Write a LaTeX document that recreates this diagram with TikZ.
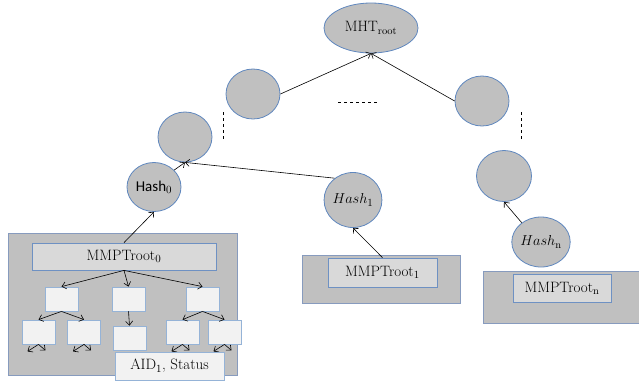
\documentclass[tikz,border=0pt]{standalone}
\usepackage{amsmath}
\usepackage{fontspec}
\usepackage{xcolor}
\newfontfamily\calibri{Carlito}
\usetikzlibrary{shapes.geometric,arrows.meta}

\definecolor{nodegray}{RGB}{192,192,192}
\definecolor{ringblue}{RGB}{95,135,190}
\definecolor{blockedge}{RGB}{135,155,190}
\definecolor{innerfill}{RGB}{217,217,217}
\definecolor{inneredge}{RGB}{110,145,195}
\definecolor{leaffill}{RGB}{242,242,242}
\definecolor{leafedge}{RGB}{149,179,215}

\tikzset{
  hashnode/.style={ellipse, draw=ringblue, fill=nodegray, line width=0.8pt, inner sep=0pt, minimum width=54, minimum height=50},
  grayblock/.style={rectangle, draw=blockedge, fill=nodegray, line width=0.8pt, inner sep=0pt},
  rootbox/.style={rectangle, draw=inneredge, fill=innerfill, line width=0.8pt, inner sep=0pt},
  leafbox/.style={rectangle, draw=leafedge, fill=leaffill, line width=0.8pt, inner sep=0pt, minimum width=33, minimum height=24},
  arr/.style={-{Straight Barb[length=4pt,width=7pt]}, line width=0.6pt},
}

\begin{document}
\begin{tikzpicture}[x=1pt, y=-1pt, font=\fontsize{15}{17}\selectfont]
            \useasboundingbox (0,0) rectangle (639,384);
            \node[hashnode, minimum width=94] (root) at (371,28) {MHT$_{\mathrm{root}}$};
            \node[hashnode] (l2a) at (253,94) {};
            \node[hashnode] (l2b) at (482,101) {};
            \node[hashnode] (l1a) at (185,137) {};
            \node[hashnode, minimum width=55, minimum height=51] (l1b) at (504,176) {};
            \node[hashnode, minimum height=49] (hash0) at (154,187) {\calibri Hash$_0$};
            \node[hashnode, minimum width=57, minimum height=55] (hash1) at (353,200) {$Hash_1$};
            \node[hashnode] (hashn) at (541,242) {$Hash_{\mathrm{n}}$};
            \draw[arr] (l2a.east) -- (root.south);
            \draw[arr] (l2b.west) -- (root.south);
            \draw[arr] (hash0.40) -- (l1a.south);
            \draw[arr] (hash1.130) -- (l1a.south);
            \draw[arr] (hashn.135) -- (l1b.south);
            \draw[dashed, line width=0.5pt] (338,102) -- (377,102);
            \draw[dashed, line width=0.5pt] (223,112) -- (223,140);
            \draw[dashed, line width=0.5pt] (521,112) -- (521,140);
            \node[grayblock, minimum width=229, minimum height=142] (blk0) at (122.5,304) {};
            \node[grayblock, minimum width=158, minimum height=48] (blk1) at (381,279) {};
            \node[grayblock, minimum width=157, minimum height=52] (blkn) at (561.5,297) {};
            \node[rootbox, minimum width=184, minimum height=27] (mmp0) at (124,256.5) {MMPTroot$_0$};
            \node[rootbox, minimum width=109, minimum height=29] (mmp1) at (382.5,272.5) {MMPTroot$_1$};
            \node[rootbox, minimum width=98, minimum height=28] (mmpn) at (562,288) {MMPTroot$_{\mathrm{n}}$};
            \draw[arr] (mmp0.north) -- (hash0.south);
            \draw[arr] (mmp1.north) -- (hash1.south);
            \node[leafbox] (la) at (61.5,299) {};
            \node[leafbox] (lb) at (128.5,299) {};
            \node[leafbox] (lc) at (202.5,299) {};
            \node[leafbox] (ld) at (38.5,332) {};
            \node[leafbox] (le) at (84,332) {};
            \node[leafbox] (lf) at (129.5,338) {};
            \node[leafbox] (lg) at (182.5,332) {};
            \node[leafbox] (lh) at (224.5,332) {};
            \foreach \t in {la,lb,lc}
              \draw[arr] (mmp0.south) -- (\t.north);
            \draw[arr] (la.south) -- (ld.north);
            \draw[arr] (la.south) -- (le.north);
            \draw[arr] (lb.south) -- (lf.north);
            \draw[arr] (lc.south) -- (lg.north);
            \draw[arr] (lc.south) -- (lh.north);
            \foreach \t in {ld,le,lg,lh} {
              \draw[arr] (\t.south) -- ++(-11,7);
              \draw[arr] (\t.south) -- ++(7,6);
            }
            \node[leafbox, minimum width=109, minimum height=28] (aid) at (169.5,366) {AID$_1$, Status};
        \end{tikzpicture}
\end{document}
